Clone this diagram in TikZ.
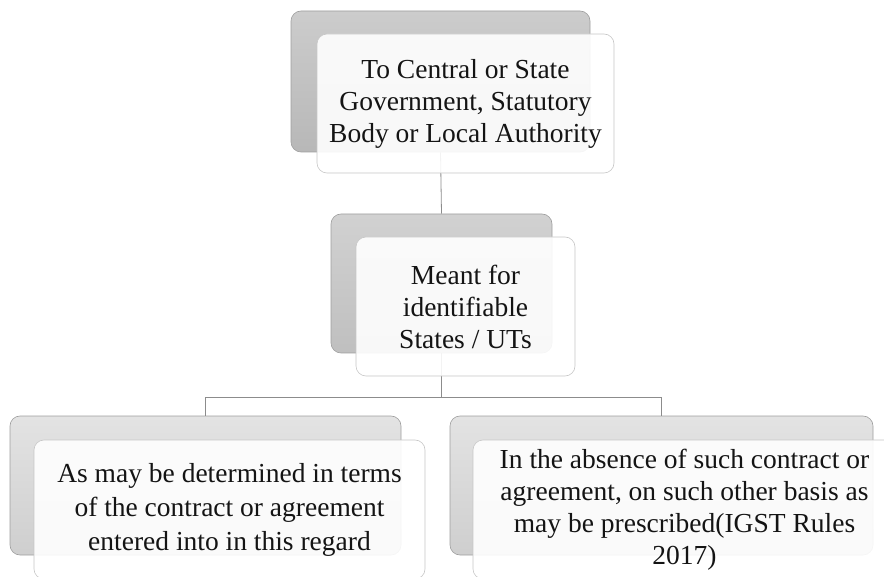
\documentclass[tikz,border=0pt]{standalone}
\usepackage{fontspec}
\setmainfont{Liberation Serif}
\begin{document}
\begin{tikzpicture}[x=1pt,y=-1pt,
  backbox/.style={draw=black!38, line width=0.6pt, rounded corners=10pt, inner sep=0pt},
  frontbox/.style={draw=black!22, line width=0.6pt, rounded corners=10pt, inner sep=0pt,
    fill=white, fill opacity=0.9, text opacity=1, align=center, text=black!92,
    font=\fontsize{27.5}{32}\selectfont},
  conn/.style={draw=black!45, line width=0.8pt}]
\useasboundingbox (0,0) rectangle (884,577);
% back boxes
\node[backbox, top color=black!20, bottom color=black!28, minimum width=299pt, minimum height=141pt] (tback) at (440.5,81.5) {};
\node[backbox, top color=black!18, bottom color=black!25, minimum width=221pt, minimum height=139pt] (mback) at (441.5,283.5) {};
\node[backbox, top color=black!11, bottom color=black!19, minimum width=391pt, minimum height=139pt] (lback) at (205.5,485.5) {};
\node[backbox, top color=black!11, bottom color=black!19, minimum width=423pt, minimum height=139pt] (rback) at (661.5,485.5) {};
% connectors
\draw[conn] (tback.south) -- (mback.north);
\coordinate (split) at ([yshift=-44pt]mback.south);
\draw[conn] (mback.south) -- (split);
\draw[conn] (split) -| (lback.north);
\draw[conn] (split) -| (rback.north);
% front boxes
\node[frontbox, minimum width=297pt, minimum height=139pt] (tfront) at (465.5,103.5)
  {To Central or State\\Government, Statutory\\Body or Local Authority};
\node[frontbox, minimum width=219pt, minimum height=139pt] (mfront) at (465.5,306.5)
  {Meant for\\identifiable\\States / UTs};
\node[frontbox, minimum width=391pt, minimum height=139pt, font=\fontsize{27.5}{34}\selectfont] (lfront) at (229.5,509.5)
  {As may be determined in terms\\of the contract or agreement\\entered into in this regard};
\node[frontbox, minimum width=423pt, minimum height=139pt] (rfront) at (684.5,509.5)
  {In the absence of such contract or\\agreement, on such other basis as\\may be prescribed(IGST Rules\\2017)};
\end{tikzpicture}
\end{document}
